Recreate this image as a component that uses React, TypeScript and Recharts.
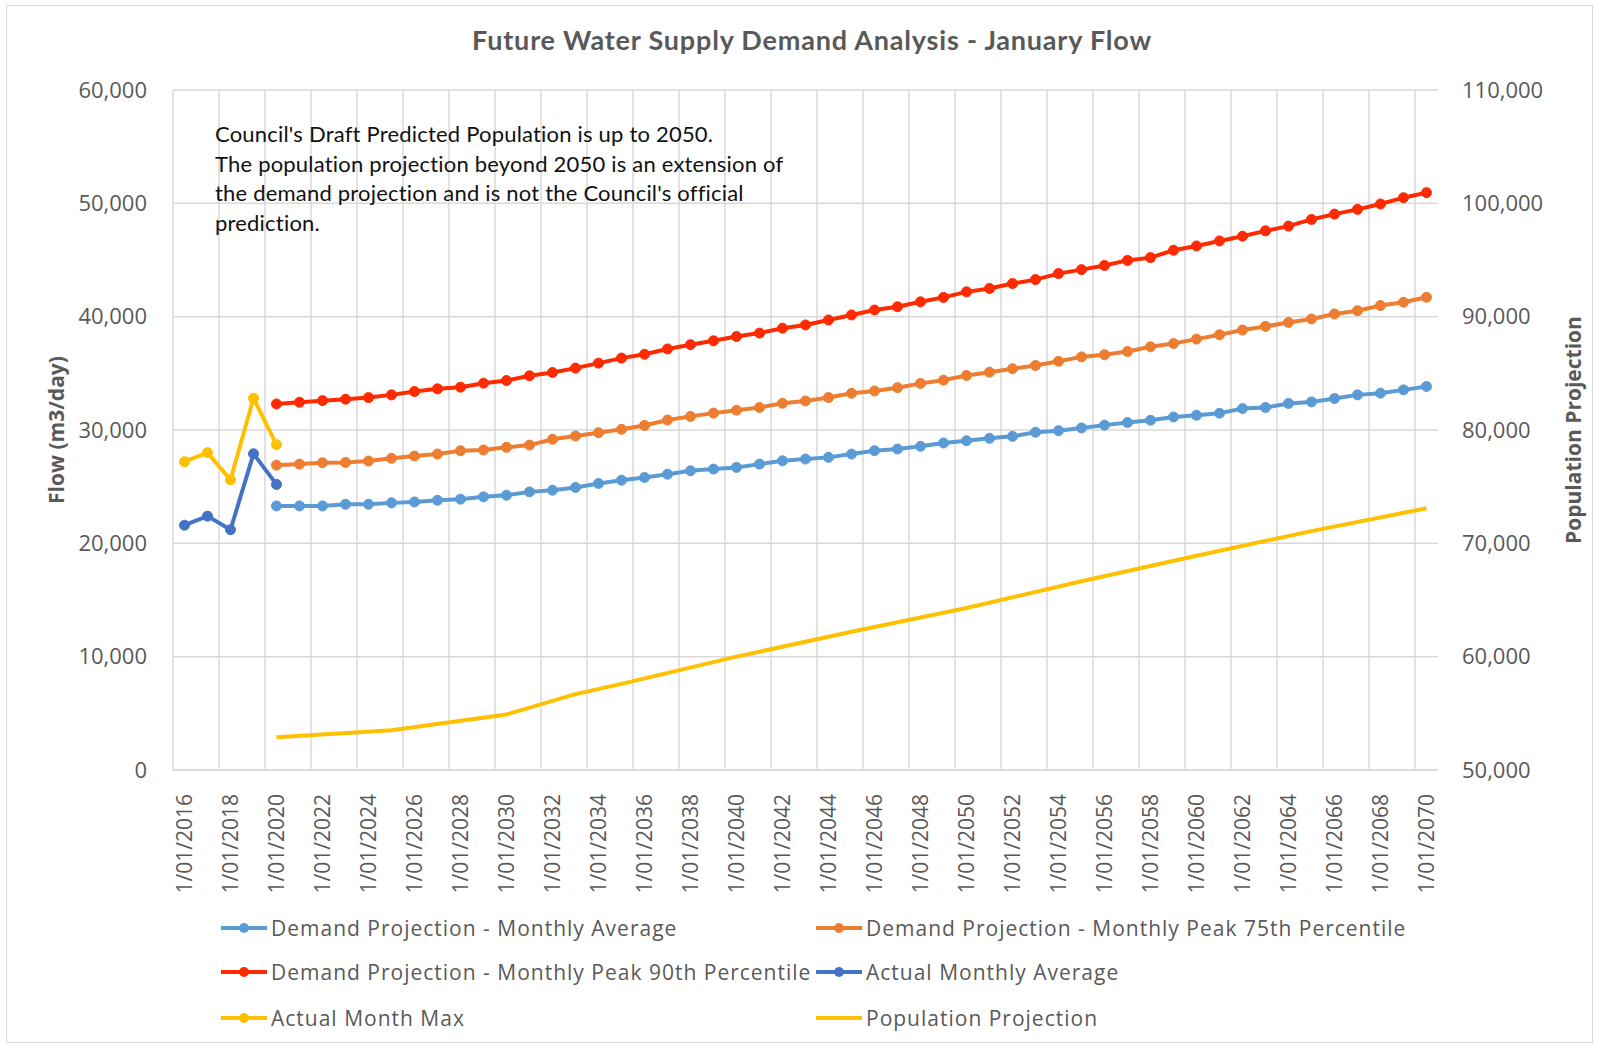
import React from "react";
import { LineChart, Line, XAxis, YAxis, CartesianGrid } from "recharts";

// x positions: one category per January, 2016..2070
const years = Array.from({ length: 55 }, (_, i) => 2016 + i);
const tickYears = years.filter((y) => y % 2 === 0);
const gridYears = tickYears.map((y) => y - 0.5);

// actual records, 2016..2020
const actualYears = [2016, 2017, 2018, 2019, 2020];
const actualMonthMax = [27200, 28000, 25600, 32800, 28700];
const actualMonthlyAvg = [21600, 22400, 21200, 27900, 25200];

// projections, 2020..2070
const projStart = 2020;
const demandAvg = [
  23300, 23300, 23300, 23450, 23450, 23570, 23650, 23800, 23900, 24100, 24250,
  24540, 24690, 24930, 25280, 25575, 25810, 26100, 26400, 26550, 26700,
  26990, 27280, 27435, 27585, 27875, 28170, 28320, 28560, 28850, 29050,
  29265, 29440, 29800, 29940, 30180, 30430, 30660, 30860, 31150, 31300,
  31480, 31890, 31980, 32340, 32480, 32780, 33100, 33250, 33540, 33840,
];
const demandP75 = [
  26900, 26990, 27110, 27140, 27260, 27500, 27700, 27880, 28170, 28230, 28470,
  28670, 29180, 29470, 29760, 30060, 30400, 30875, 31200, 31490, 31750,
  31985, 32360, 32565, 32860, 33240, 33440, 33735, 34110, 34400, 34810,
  35100, 35400, 35690, 36060, 36450, 36640, 36930, 37340, 37630, 38020,
  38400, 38820, 39140, 39490, 39800, 40240, 40530, 40980, 41270, 41710,
];
const demandP90 = [
  32300, 32450, 32590, 32720, 32860, 33100, 33390, 33630, 33780, 34130, 34360,
  34780, 35070, 35460, 35900, 36345, 36680, 37150, 37530, 37870, 38250,
  38550, 38985, 39270, 39710, 40150, 40590, 40875, 41310, 41700, 42190,
  42485, 42920, 43270, 43800, 44150, 44520, 44965, 45210, 45860, 46240,
  46680, 47100, 47570, 47990, 48580, 49050, 49470, 49940, 50500, 50940,
];

// population projection (right axis), read at its break points
const popYears = [2020, 2025, 2030, 2033, 2035, 2040, 2045, 2050, 2055, 2060, 2065, 2070];
const population = [52900, 53500, 54900, 56700, 57600, 60000, 62200, 64300, 66650, 68900, 71080, 73100];

const flowTicks = [0, 10000, 20000, 30000, 40000, 50000, 60000];
const popTicks = [50000, 60000, 70000, 80000, 90000, 100000, 110000];

const X_MIN = 2015.5;
const X_MAX = 2070.5;

const chartData = years.map((year) => {
  const a = actualYears.indexOf(year);
  const p = year - projStart;
  const q = popYears.indexOf(year);
  return {
    year,
    actualMax: a >= 0 ? actualMonthMax[a] : null,
    actualAvg: a >= 0 ? actualMonthlyAvg[a] : null,
    avg: p >= 0 ? demandAvg[p] : null,
    p75: p >= 0 ? demandP75[p] : null,
    p90: p >= 0 ? demandP90[p] : null,
    pop: q >= 0 ? population[q] : null,
  };
});

const GREY = "#595959";
const TICK_FONT = "'Open Sans', sans-serif";
const NOTE_FONT = "Lato, sans-serif";

const series = [
  { key: "avg", name: "Demand Projection - Monthly Average", color: "#5B9BD5", dot: true },
  { key: "p75", name: "Demand Projection - Monthly Peak 75th Percentile", color: "#ED7D31", dot: true },
  { key: "p90", name: "Demand Projection - Monthly Peak 90th Percentile", color: "#FF2A00", dot: true },
  { key: "actualAvg", name: "Actual Monthly Average", color: "#4472C4", dot: true },
  { key: "actualMax", name: "Actual Month Max", color: "#FFC000", dot: true },
  { key: "pop", name: "Population Projection", color: "#FFC000", dot: false },
];

const fmt = (v: number) => v.toLocaleString("en-US");

function DateTick(props: any) {
  const { x, y, payload } = props;
  return (
    <g transform={`translate(${x},${y})`}>
      <text
        transform="rotate(-90)"
        x={-16}
        y={0}
        dy="0.36em"
        textAnchor="end"
        fill={GREY}
        fontSize={21}
        fontFamily={TICK_FONT}
      >
        {`1/01/${payload.value}`}
      </text>
    </g>
  );
}

function LegendBox() {
  const colX = [221, 816];
  const rowY = [928, 972, 1018];
  return (
    <>
      {series.map((s, i) => (
        <div
          key={s.key}
          style={{
            position: "absolute",
            left: colX[i % 2],
            top: rowY[Math.floor(i / 2)] - 16,
            height: 32,
            display: "flex",
            alignItems: "center",
            fontFamily: TICK_FONT,
            fontSize: 21,
            letterSpacing: 1,
            color: GREY,
            whiteSpace: "nowrap",
          }}
        >
          <svg width={46} height={14} style={{ marginRight: 4 }}>
            <line x1={0} y1={7} x2={46} y2={7} stroke={s.color} strokeWidth={4} />
            {s.dot && <circle cx={23} cy={7} r={5} fill={s.color} />}
          </svg>
          {s.name}
        </div>
      ))}
    </>
  );
}

export default function App() {
  return (
    <div style={{ position: "absolute", left: 0, top: 0, width: 1598, height: 1046, background: "#fff" }}>
      <div
        style={{
          position: "absolute",
          left: 6,
          top: 5,
          width: 1585,
          height: 1036,
          border: "1px solid #d9d9d9",
        }}
      />
      <LineChart
        width={1598}
        height={1046}
        data={chartData}
        margin={{ top: 90, right: 10, bottom: 146, left: 13 }}
      >
        <CartesianGrid
          yAxisId="left"
          stroke="#d9d9d9"
          strokeWidth={1.5}
          verticalCoordinatesGenerator={({ offset }: any) =>
            gridYears.map((g) => offset.left + ((g - X_MIN) / (X_MAX - X_MIN)) * offset.width)
          }
        />
        <XAxis
          dataKey="year"
          type="number"
          domain={[X_MIN, X_MAX]}
          ticks={tickYears}
          interval={0}
          height={130}
          tickLine={false}
          axisLine={{ stroke: "#d9d9d9", strokeWidth: 1.5 }}
          tick={<DateTick />}
        />
        <YAxis
          yAxisId="left"
          domain={[0, 60000]}
          ticks={flowTicks}
          width={160}
          tickSize={0}
          tickMargin={26}
          axisLine={false}
          tickLine={false}
          tickFormatter={fmt}
          tick={{ fill: GREY, fontSize: 22, fontFamily: TICK_FONT }}
        />
        <YAxis
          yAxisId="right"
          orientation="right"
          domain={[50000, 110000]}
          ticks={popTicks}
          width={150}
          tickSize={0}
          tickMargin={24}
          axisLine={false}
          tickLine={false}
          tickFormatter={fmt}
          tick={{ fill: GREY, fontSize: 22, fontFamily: TICK_FONT, textAnchor: "start" }}
        />
        <Line
          yAxisId="right"
          dataKey="pop"
          stroke="#FFC000"
          strokeWidth={4}
          dot={false}
          connectNulls
          isAnimationActive={false}
        />
        {series
          .filter((s) => s.dot)
          .map((s) => (
            <Line
              key={s.key}
              yAxisId="left"
              dataKey={s.key}
              name={s.name}
              stroke={s.color}
              strokeWidth={4}
              dot={{ r: 5, fill: s.color, stroke: s.color, strokeWidth: 1 }}
              isAnimationActive={false}
            />
          ))}
      </LineChart>

      <div
        style={{
          position: "absolute",
          left: 0,
          width: 1624,
          top: 23,
          textAlign: "center",
          fontFamily: NOTE_FONT,
          fontWeight: 700,
          fontSize: 27,
          letterSpacing: 0.8,
          color: GREY,
        }}
      >
        Future Water Supply Demand Analysis - January Flow
      </div>

      <div
        style={{
          position: "absolute",
          left: 215,
          top: 119,
          fontFamily: NOTE_FONT,
          fontSize: 22,
          letterSpacing: 0.2,
          lineHeight: "29.6px",
          color: "#111",
        }}
      >
        Council's Draft Predicted Population is up to 2050.
        <br />
        The population projection beyond 2050 is an extension of
        <br />
        the demand projection and is not the Council's official
        <br />
        prediction.
      </div>

      <div
        style={{
          position: "absolute",
          left: 56,
          top: 430,
          transform: "translate(-50%, -50%) rotate(-90deg)",
          fontFamily: TICK_FONT,
          fontWeight: 700,
          fontSize: 21,
          color: GREY,
          whiteSpace: "nowrap",
        }}
      >
        Flow (m3/day)
      </div>
      <div
        style={{
          position: "absolute",
          left: 1573,
          top: 430,
          transform: "translate(-50%, -50%) rotate(-90deg)",
          fontFamily: TICK_FONT,
          fontWeight: 700,
          fontSize: 21,
          color: GREY,
          whiteSpace: "nowrap",
        }}
      >
        Population Projection
      </div>

      <LegendBox />
    </div>
  );
}
